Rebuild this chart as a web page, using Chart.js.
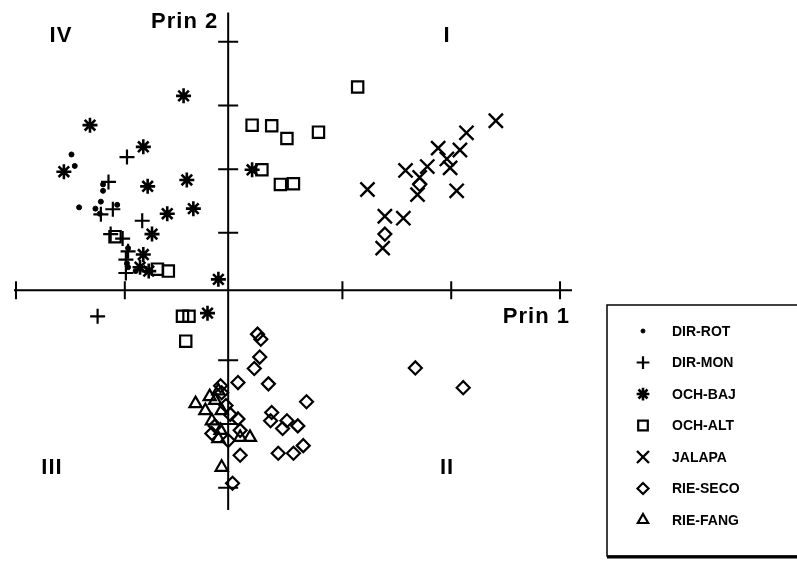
<!DOCTYPE html>
<html>
<head>
<meta charset="utf-8">
<script src="https://cdn.jsdelivr.net/npm/chart.js@4/dist/chart.umd.min.js"></script>
<style>
  html, body { margin: 0; padding: 0; background: #fff; }
</style>
</head>
<body>
<canvas id="grafico-prin" width="797" height="564"></canvas>
<script>
// GRUPOS (legenda)
const grupos = ['DIR-ROT', 'DIR-MON', 'OCH-BAJ', 'OCH-ALT', 'JALAPA', 'RIE-SECO', 'RIE-FANG'];

// valores [Prin 1, Prin 2]
const dirRot = [[-1.44, 2.13], [-1.41, 1.95], [-1.15, 1.66], [-1.15, 1.56], [-1.37, 1.30], [-1.22, 1.28],
  [-1.17, 1.39], [-1.18, 1.20], [-1.02, 1.34], [-0.92, 0.66], [-0.92, 0.36], [-0.85, 0.30], [-0.93, 0.42]];
const dirMon = [[-0.93, 2.09], [-1.10, 1.70], [-1.17, 1.19], [-1.06, 1.27], [-0.79, 1.09], [-1.08, 0.88],
  [-0.97, 0.81], [-0.92, 0.61], [-0.94, 0.48], [-0.94, 0.27], [-1.20, -0.41]];
const ochBaj = [[-0.41, 3.05], [-1.27, 2.59], [-0.78, 2.25], [-1.51, 1.86], [-0.74, 1.63], [-0.38, 1.73],
  [-0.56, 1.20], [-0.32, 1.28], [-0.70, 0.88], [-0.78, 0.56], [-0.81, 0.36], [-0.73, 0.30], [-0.09, 0.17],
  [-0.19, -0.36], [0.22, 1.89]];
const ochAlt = [[1.19, 3.19], [0.22, 2.59], [0.40, 2.58], [0.54, 2.38], [0.83, 2.48], [0.31, 1.89],
  [0.48, 1.66], [0.60, 1.67], [-1.04, 0.84], [-0.65, 0.33], [-0.55, 0.30], [-0.42, -0.41], [-0.36, -0.41],
  [-0.39, -0.80]];
const jalapa = [[2.46, 2.66], [2.19, 2.47], [1.93, 2.23], [2.13, 2.20], [2.01, 2.06], [1.83, 1.94],
  [2.04, 1.92], [1.63, 1.88], [1.76, 1.77], [1.28, 1.58], [1.74, 1.50], [2.10, 1.56], [1.44, 1.16],
  [1.61, 1.13], [1.42, 0.66]];
const rieSeco = [[1.76, 1.66], [1.44, 0.88], [1.72, -1.22], [2.16, -1.53], [0.27, -0.69], [0.30, -0.77],
  [0.29, -1.05], [0.24, -1.23], [0.37, -1.47], [0.09, -1.45], [0.72, -1.75], [0.40, -1.92], [0.39, -2.05],
  [0.54, -2.05], [0.50, -2.17], [0.64, -2.13], [0.09, -2.02], [0.11, -2.20], [0.69, -2.44], [0.60, -2.56],
  [0.46, -2.56], [0.11, -2.59], [0.04, -3.03], [-0.06, -1.61], [-0.02, -1.81], [0.02, -1.95], [-0.12, -2.13],
  [0.00, -2.36], [-0.07, -1.50], [-0.15, -2.25]];
const rieFang = [[-0.30, -1.78], [-0.17, -1.67], [-0.21, -1.89], [-0.12, -1.73], [-0.15, -2.05], [-0.07, -2.20],
  [-0.09, -2.33], [0.20, -2.31], [0.11, -2.31], [-0.06, -2.78], [-0.09, -1.58], [-0.06, -1.89]];

// marcas dos eixos
const xTicks = [-1.95, -0.95, 1.05, 2.05, 3.05];
const yTicks = [3.9, 2.9, 1.9, 0.9, -1.1, -2.1, -3.1];

const series = [dirRot, dirMon, ochBaj, ochAlt, jalapa, rieSeco, rieFang];
const estilos = [
  { pointStyle: 'circle', radius: 2.5, fill: '#000', borderWidth: 1 },
  { pointStyle: 'cross', radius: 7.5, fill: 'transparent', borderWidth: 2.2 },
  { pointStyle: 'star', radius: 7.5, fill: 'transparent', borderWidth: 2.6 },
  { pointStyle: 'rect', radius: 8, fill: 'transparent', borderWidth: 2.2 },
  { pointStyle: 'crossRot', radius: 10, fill: 'transparent', borderWidth: 2.4 },
  { pointStyle: 'rectRot', radius: 6.5, fill: 'transparent', borderWidth: 2.2 },
  { pointStyle: 'triangle', radius: 7, fill: 'transparent', borderWidth: 2.2 }
];

const FONTE = '"Liberation Sans", Arial, sans-serif';

// eixos cruzando na origem, rotulos e legenda
const eixos = {
  id: 'eixos',
  beforeDatasetsDraw(chart) {
    const { ctx, chartArea: a, scales: { x, y } } = chart;
    const x0 = x.getPixelForValue(0);
    const y0 = y.getPixelForValue(0);
    ctx.save();
    ctx.strokeStyle = '#000';
    ctx.lineWidth = 2;
    ctx.beginPath();
    ctx.moveTo(a.left - 2, y0); ctx.lineTo(a.right, y0);
    ctx.moveTo(x0, a.top); ctx.lineTo(x0, a.bottom);
    xTicks.forEach(v => {
      const p = x.getPixelForValue(v);
      ctx.moveTo(p, y0 - 9); ctx.lineTo(p, y0 + 9);
    });
    yTicks.forEach(v => {
      const p = y.getPixelForValue(v);
      ctx.moveTo(x0 - 10, p); ctx.lineTo(x0 + 10, p);
    });
    ctx.stroke();

    ctx.fillStyle = '#000';
    ctx.font = 'bold 22px ' + FONTE;
    ctx.letterSpacing = '1px';
    ctx.textBaseline = 'middle';
    ctx.textAlign = 'right';
    ctx.fillText('Prin 2', x0 - 10, a.top + 10);
    ctx.fillText('Prin 1', a.right - 2, y0 + 27);
    ctx.textAlign = 'center';
    ctx.fillText('IV', 61, 36);
    ctx.fillText('I', 447, 36);
    ctx.fillText('III', 52, 468);
    ctx.fillText('II', 447, 468);
    ctx.restore();
  },
  afterDraw(chart) {
    const ctx = chart.ctx;
    ctx.save();
    ctx.strokeStyle = '#000';
    ctx.lineWidth = 1.5;
    ctx.beginPath();
    ctx.moveTo(800, 305); ctx.lineTo(607, 305); ctx.lineTo(607, 556); ctx.lineTo(800, 556);
    ctx.stroke();
    ctx.lineWidth = 3;
    ctx.beginPath();
    ctx.moveTo(607, 557); ctx.lineTo(800, 557);
    ctx.stroke();
    ctx.font = 'bold 14px ' + FONTE;
    ctx.textBaseline = 'middle';
    ctx.textAlign = 'left';
    chart.data.datasets.forEach((ds, i) => {
      const yy = 331 + i * 31.5;
      const e = estilos[i];
      ctx.fillStyle = e.fill;
      ctx.lineWidth = e.borderWidth;
      Chart.helpers.drawPoint(ctx, {
        pointStyle: e.pointStyle,
        radius: e.pointStyle === 'circle' ? 2 : e.radius * 0.85,
        borderWidth: e.borderWidth,
        rotation: 0
      }, 643, yy);
      ctx.fillStyle = '#000';
      ctx.fillText(ds.label, 672, yy + 1);
    });
    ctx.restore();
  }
};

const ctx = document.getElementById('grafico-prin');

new Chart(ctx, {
  type: 'scatter',
  data: {
    datasets: series.map((s, i) => ({
      label: grupos[i],
      data: s.map(p => ({ x: p[0], y: p[1] })),
      pointStyle: estilos[i].pointStyle,
      pointRadius: estilos[i].radius,
      pointBorderWidth: estilos[i].borderWidth,
      borderColor: '#000',
      backgroundColor: estilos[i].fill
    }))
  },
  options: {
    responsive: false,
    animation: false,
    layout: { padding: { left: 16, top: 10, right: 225, bottom: 54 } },
    scales: {
      x: { type: 'linear', min: -1.95, max: 3.16, display: false },
      y: { type: 'linear', min: -3.45, max: 4.36, display: false }
    },
    plugins: {
      legend: { display: false },
      tooltip: { enabled: false }
    }
  },
  plugins: [eixos]
});
</script>
</body>
</html>
